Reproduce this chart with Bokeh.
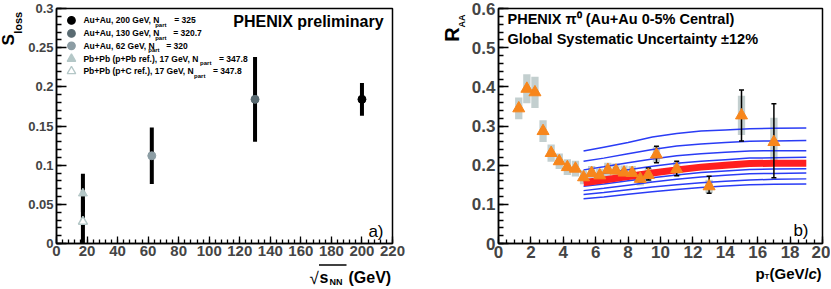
import numpy as np
from bokeh.plotting import figure
from bokeh.models import Label, FixedTicker, Range1d
from bokeh.layouts import row, column
from bokeh.embed import file_html
from bokeh.resources import INLINE

FONT = "Liberation Sans"

# ---------------- Panel a) data ----------------
rhic_sqrts = [200.0, 130.0, 62.4]
rhic_sloss = [0.184, 0.184, 0.112]
rhic_err = [0.021, 0.054, 0.036]
rhic_colors = ["#000000", "#5a6b72", "#8c9da4"]

sps_sqrts = 17.3
sps_pPb = 0.064
sps_pPb_err = [0.024, 0.025]
sps_pC = 0.028
sps_pC_err = [0.028, 0.028]
sps_color = "#b4c7c7"

legend_main = ["Au+Au, 200 GeV, N", "Au+Au, 130 GeV, N", "Au+Au, 62 GeV, N",
               "Pb+Pb (p+Pb ref.), 17 GeV, N", "Pb+Pb (p+C ref.), 17 GeV, N"]
legend_val = ["= 325", "= 320.7", "= 320", "= 347.8", "= 347.8"]

# ---------------- Panel b) data ----------------
pt = [1.25, 1.75, 2.25, 2.75, 3.25, 3.75, 4.25, 4.75, 5.25, 5.75, 6.25, 6.75,
      7.25, 7.75, 8.25, 8.75, 9.25, 9.75, 11.0, 13.0, 15.0, 17.0]
raa = [0.345, 0.395, 0.386, 0.287, 0.231, 0.210, 0.195, 0.191, 0.169, 0.180,
       0.174, 0.188, 0.186, 0.181, 0.180, 0.165, 0.175, 0.227, 0.190, 0.146,
       0.327, 0.259]
raa_sys = [0.028, 0.037, 0.040, 0.028, 0.022, 0.020, 0.020, 0.020, 0.018, 0.018,
           0.017, 0.018, 0.018, 0.018, 0.018, 0.017, 0.018, 0.020, 0.018, 0.017,
           0.050, 0.062]
raa_err_lo = [0.004, 0.004, 0.004, 0.004, 0.004, 0.004, 0.004, 0.004, 0.004, 0.005,
              0.005, 0.005, 0.006, 0.006, 0.007, 0.008, 0.013, 0.021, 0.017, 0.018,
              0.065, 0.091]
raa_err_hi = [0.004, 0.004, 0.004, 0.004, 0.004, 0.004, 0.004, 0.004, 0.004, 0.005,
              0.005, 0.005, 0.006, 0.006, 0.007, 0.008, 0.018, 0.021, 0.020, 0.026,
              0.065, 0.098]

model_pt = [5.25, 6.5, 8.0, 9.5, 11.0, 12.5, 14.0, 15.5, 17.0, 19.0]
model_blue = [
    [0.236, 0.246, 0.258, 0.272, 0.281, 0.287, 0.290, 0.293, 0.294, 0.295],
    [0.210, 0.218, 0.229, 0.240, 0.249, 0.254, 0.258, 0.261, 0.262, 0.263],
    [0.188, 0.196, 0.206, 0.216, 0.224, 0.229, 0.233, 0.236, 0.237, 0.237],
    [0.172, 0.179, 0.188, 0.197, 0.205, 0.210, 0.214, 0.218, 0.219, 0.220],
    [0.146, 0.152, 0.160, 0.168, 0.175, 0.181, 0.185, 0.189, 0.190, 0.191],
    [0.135, 0.141, 0.149, 0.157, 0.164, 0.170, 0.174, 0.178, 0.179, 0.180],
    [0.125, 0.130, 0.137, 0.144, 0.150, 0.155, 0.159, 0.162, 0.164, 0.165],
    [0.114, 0.119, 0.126, 0.132, 0.138, 0.143, 0.147, 0.150, 0.151, 0.152],
]
model_best = [0.155, 0.162, 0.171, 0.180, 0.188, 0.195, 0.200, 0.204, 0.205, 0.205]

# ---------------- layout (page pixels, origin at top-left) ----------------
TOPROW_H = 262
BOTROW_H = 27
HL_W = 25                 # left helper (S_loss title)
P1_W = 395                # page x 25..420
HR_W = 46                 # helper between panels (R_AA title), page 420..466
P2_W = 364                # page x 466..830
F1_LEFT, F1_RIGHT, F1_TOP, F1_BOT = 55, 392, 7, 243
F2_LEFT, F2_RIGHT, F2_TOP, F2_BOT = 498, 822, 8, 243
P1_X0 = HL_W
P2_X0 = HL_W + P1_W + HR_W


def ax1(px):
    return (px - F1_LEFT) / (F1_RIGHT - F1_LEFT) * 220.0


def ay1(py):
    return (F1_BOT - py) / (F1_BOT - F1_TOP) * 0.3


def ax2(px):
    return (px - F2_LEFT) / (F2_RIGHT - F2_LEFT) * 20.0


def ay2(py):
    return (F2_BOT - py) / (F2_BOT - F2_TOP) * 0.6


def lab(p, x, y, text, size, bold=True, italic=False, angle=0.0,
        align="left", baseline="middle", color="black"):
    style = "bold" if bold else "normal"
    if italic:
        style = "bold italic" if bold else "italic"
    p.add_layout(Label(x=x, y=y, text=text, text_font=FONT,
                       text_font_size=f"{size}px", text_font_style=style,
                       angle=angle, text_align=align, text_baseline=baseline,
                       text_color=color))


def helper(w, h):
    f = figure(width=w, height=h, x_range=Range1d(0, w), y_range=Range1d(0, h),
               output_backend="svg", toolbar_location=None, min_border=0,
               x_axis_type=None, y_axis_type=None)
    f.outline_line_color = None
    return f


def style_axes(p, xsize, ysize, xmaj, xmin, ymaj, ymin):
    for ax, sz, mj, mn in ((p.xaxis[0], xsize, xmaj, xmin), (p.yaxis[0], ysize, ymaj, ymin)):
        ax.major_label_text_font = FONT
        ax.major_label_text_font_style = "bold"
        ax.major_label_text_font_size = f"{sz}px"
        ax.major_tick_in = mj
        ax.major_tick_out = 0
        ax.minor_tick_in = mn
        ax.minor_tick_out = 0
        ax.axis_line_width = 1.5
        ax.major_tick_line_width = 1.3
        ax.minor_tick_line_width = 1.3
    p.xaxis[0].major_label_standoff = 2
    p.yaxis[0].major_label_standoff = 3
    p.xgrid.visible = False
    p.ygrid.visible = False
    p.outline_line_color = "black"
    p.outline_line_width = 1.5


# ================= Panel a =================
p1 = figure(width=P1_W, height=TOPROW_H, x_range=Range1d(0, 220), y_range=Range1d(0, 0.3),
            output_backend="svg", toolbar_location=None,
            min_border_left=F1_LEFT - P1_X0, min_border_right=P1_X0 + P1_W - F1_RIGHT,
            min_border_top=F1_TOP, min_border_bottom=TOPROW_H - F1_BOT)
style_axes(p1, 15, 13, 7, 4, 10, 5)
p1.xaxis.ticker = FixedTicker(ticks=list(range(0, 221, 20)), minor_ticks=list(range(0, 221, 4)))
p1.yaxis.ticker = FixedTicker(ticks=[0, 0.05, 0.1, 0.15, 0.2, 0.25, 0.3],
                              minor_ticks=[float(v) for v in np.round(np.arange(0, 0.3001, 0.01), 3)])
p1.yaxis.major_label_overrides = {0: "0", 0.05: "0.05", 0.1: "0.1", 0.15: "0.15",
                                  0.2: "0.2", 0.25: "0.25", 0.3: "0.3"}
p1.xaxis.major_label_overrides = {v: str(v) for v in range(0, 221, 20)}

for xv, yv, ev in zip(rhic_sqrts, rhic_sloss, rhic_err):
    p1.segment(x0=xv, y0=yv - ev, x1=xv, y1=yv + ev, line_color="black", line_width=4)
p1.segment(x0=sps_sqrts, y0=sps_pPb - sps_pPb_err[0], x1=sps_sqrts, y1=sps_pPb + sps_pPb_err[1],
           line_color="black", line_width=4)
p1.segment(x0=sps_sqrts, y0=sps_pC - sps_pC_err[0], x1=sps_sqrts, y1=sps_pC + sps_pC_err[1],
           line_color="black", line_width=4)
p1.scatter(rhic_sqrts, rhic_sloss, marker="circle", size=8, fill_color=rhic_colors, line_color=rhic_colors)
p1.scatter([sps_sqrts], [sps_pPb], marker="triangle", size=9, fill_color=sps_color, line_color=sps_color)
p1.scatter([sps_sqrts], [sps_pC], marker="triangle", size=9, fill_color="white", line_color=sps_color,
           line_width=1.5)

leg_y = [19, 32, 44.5, 57.5, 70]
leg_part_x = [154, 154, 147, 199, 193]
leg_val_x = [173, 172, 165, 218, 212]
leg_markers = [("circle", rhic_colors[0], rhic_colors[0]), ("circle", rhic_colors[1], rhic_colors[1]),
               ("circle", rhic_colors[2], rhic_colors[2]), ("triangle", sps_color, sps_color),
               ("triangle", "white", sps_color)]
for i in range(5):
    mk, fc, lc = leg_markers[i]
    p1.scatter([ax1(70)], [ay1(leg_y[i])], marker=mk, size=7.5 if mk == "circle" else 8.5,
               fill_color=fc, line_color=lc, line_width=1.3)
    lab(p1, ax1(82), ay1(leg_y[i]), legend_main[i], 8.5)
    lab(p1, ax1(leg_part_x[i]), ay1(leg_y[i] + 4.5), "part", 6)
    lab(p1, ax1(leg_val_x[i]), ay1(leg_y[i]), legend_val[i], 8.5)

lab(p1, ax1(383), ay1(20), "PHENIX preliminary", 16, align="right")
lab(p1, ax1(383), ay1(231), "a)", 17, bold=False, align="right")

# ================= Panel b =================
p2 = figure(width=P2_W, height=TOPROW_H, x_range=Range1d(0, 20), y_range=Range1d(0, 0.6),
            output_backend="svg", toolbar_location=None,
            min_border_left=F2_LEFT - P2_X0, min_border_right=P2_X0 + P2_W - F2_RIGHT,
            min_border_top=F2_TOP, min_border_bottom=TOPROW_H - F2_BOT)
style_axes(p2, 17, 17, 7, 4, 10, 5)
p2.xaxis.ticker = FixedTicker(ticks=list(range(0, 21, 2)),
                              minor_ticks=[float(v) for v in np.round(np.arange(0, 20.01, 0.5), 2)])
p2.yaxis.ticker = FixedTicker(ticks=[0, 0.1, 0.2, 0.3, 0.4, 0.5, 0.6],
                              minor_ticks=[float(v) for v in np.round(np.arange(0, 0.601, 0.02), 3)])
p2.yaxis.major_label_overrides = {0: "0", 0.1: "0.1", 0.2: "0.2", 0.3: "0.3",
                                  0.4: "0.4", 0.5: "0.5", 0.6: "0.6"}
p2.xaxis.major_label_overrides = {v: str(v) for v in range(0, 21, 2)}

bot = [r - s for r, s in zip(raa, raa_sys)]
top = [r + s for r, s in zip(raa, raa_sys)]
p2.vbar(x=pt, width=0.45, bottom=bot, top=top, fill_color="#c3cfcf", line_color=None)

for line in model_blue:
    p2.line(model_pt, line, line_color="#2a3cf5", line_width=1.5)
p2.line(model_pt, model_best, line_color="#ff1f1f", line_width=7)

elo = [r - e for r, e in zip(raa, raa_err_lo)]
ehi = [r + e for r, e in zip(raa, raa_err_hi)]
p2.segment(x0=pt, y0=elo, x1=pt, y1=ehi, line_color="black", line_width=1.5)
p2.scatter(pt, elo, marker="dash", size=5, line_color="black", line_width=1.5)
p2.scatter(pt, ehi, marker="dash", size=5, line_color="black", line_width=1.5)
p2.scatter(pt, raa, marker="triangle", size=12, fill_color="#f7861c", line_color="#f7861c")

lab(p2, ax2(507), ay2(18), "PHENIX \u03c0\u2070 (Au+Au 0-5% Central)", 14.5)
lab(p2, ax2(507), ay2(38), "Global Systematic Uncertainty \u00b112%", 14.5)
lab(p2, ax2(808), ay2(230), "b)", 17, bold=False, align="right")

# ================= axis titles (helper canvases, page-pixel coordinates) =================
hL = helper(HL_W, TOPROW_H)
lab(hL, 8, TOPROW_H - 35, "S", 17, angle=np.pi / 2, align="center", baseline="middle")
lab(hL, 17, TOPROW_H - 16, "loss", 11, angle=np.pi / 2, align="center", baseline="middle")

hR = helper(HR_W, TOPROW_H)
x0 = HL_W + P1_W
lab(hR, 451 - x0, TOPROW_H - 29, "R", 20, angle=np.pi / 2, align="center", baseline="middle")
lab(hR, 461 - x0, TOPROW_H - 14, "AA", 9, angle=np.pi / 2, align="center", baseline="middle")

hB = helper(HL_W + P1_W + HR_W + P2_W, BOTROW_H)


def yb(py):
    return TOPROW_H + BOTROW_H - py


lab(hB, 309, yb(278), "\u221a", 17, bold=False, baseline="alphabetic")
lab(hB, 319, yb(277), "s", 16, baseline="alphabetic")
lab(hB, 329, yb(281), "NN", 9, baseline="alphabetic")
lab(hB, 348, yb(277), "(GeV)", 16, baseline="alphabetic")
hB.line([318.5, 346], [yb(264.5), yb(264.5)], line_color="black", line_width=1.3)

lab(hB, 755, yb(273), "p", 15, baseline="alphabetic")
lab(hB, 764, yb(276), "T", 8, baseline="alphabetic")
lab(hB, 769, yb(273), "(GeV/", 15, baseline="alphabetic")
lab(hB, 808, yb(273), "c", 15, italic=True, baseline="alphabetic")
lab(hB, 816, yb(273), ")", 15, baseline="alphabetic")

layout = column(row(hL, p1, hR, p2), hB)
open("out.html", "w").write(file_html(layout, INLINE))
